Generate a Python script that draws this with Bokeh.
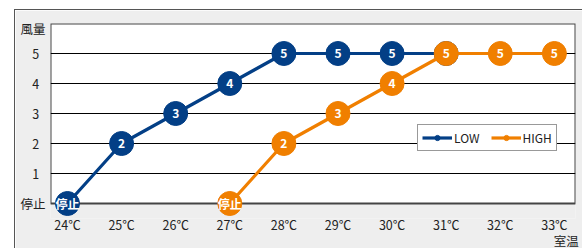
from bokeh.plotting import figure
from bokeh.models import ColumnDataSource, Legend, LegendItem, FixedTicker, LinearAxis
from bokeh.embed import file_html
from bokeh.resources import INLINE
from bokeh.core.properties import value

temps = [24, 25, 26, 27, 28, 29, 30, 31, 32, 33]
temp_labels = ["24℃", "25℃", "26℃", "27℃", "28℃", "29℃", "30℃", "31℃", "32℃", "33℃"]
low_x = [24, 25, 26, 27, 28, 29, 30, 31]
low_y = [0, 2, 3, 4, 5, 5, 5, 5]
high_x = [27, 28, 29, 30, 31, 32, 33]
high_y = [0, 2, 3, 4, 5, 5, 5]
level_ticks = [0, 1, 2, 3, 4, 5]
level_labels = ["停止", "1", "2", "3", "4", "5"]
grid_levels = [1, 2, 3, 4, 5]
y_title, y_title_pos = "風量", 5.82
x_title, x_title_pos = "室温", 33.22

NAVY = "#033f86"
ORANGE = "#f07f00"
GRAY = "#eeeeee"
FONT = "Noto Sans CJK JP"
X0, X1 = 23.686, 33.39
Y0, Y1 = -0.5, 6
PAD = "\u2002"  # keeps the short numeric labels centred under the wider ones

def lab(v):
    return "停止" if v == 0 else str(v)

p = figure(frame_width=525, frame_height=195, x_range=(X0, X1), y_range=(Y0, Y1),
           output_backend="svg", toolbar_location=None,
           min_border_left=35, min_border_top=13, min_border_right=8, min_border_bottom=31)
p.margin = (9, 0, 0, 14)
p.styles = {"border-left": "1px solid #555555", "border-top": "1px solid #555555"}
p.border_fill_color = GRAY
p.background_fill_color = GRAY
p.outline_line_color = None
p.xgrid.visible = False
p.ygrid.visible = False

# white plot area and horizontal rules
p.quad(left=[X0], right=[X1], bottom=[0], top=[Y1], fill_color="white",
       line_color="#444444", line_width=2)
p.hspan(y=grid_levels, line_color="black", line_width=1)

p.xaxis.ticker = FixedTicker(ticks=temps)
p.xaxis.major_label_overrides = {t: l for t, l in zip(temps, temp_labels)}
p.yaxis.ticker = FixedTicker(ticks=level_ticks + [y_title_pos])
ov = {t: (l if len(l) > 1 else l + PAD) for t, l in zip(level_ticks, level_labels)}
ov[y_title_pos] = y_title
p.yaxis.major_label_overrides = ov

x2 = LinearAxis(ticker=FixedTicker(ticks=[x_title_pos]),
                major_label_overrides={x_title_pos: x_title})
p.add_layout(x2, "below")

for ax in (p.xaxis[0], p.yaxis[0], x2):
    ax.axis_line_color = None
    ax.major_tick_line_color = None
    ax.minor_tick_line_color = None
    ax.major_tick_out = 0
    ax.major_tick_in = 0
    ax.minor_tick_out = 0
    ax.minor_tick_in = 0
    ax.major_label_text_font = FONT
    ax.major_label_text_font_size = "12.5px"
    ax.major_label_text_color = "#222222"
p.xaxis[0].major_label_standoff = -4
x2.major_label_standoff = -6
p.yaxis[0].major_label_standoff = 5

low_src = ColumnDataSource(dict(x=low_x, y=low_y, t=[lab(v) for v in low_y]))
high_src = ColumnDataSource(dict(x=high_x, y=high_y, t=[lab(v) for v in high_y]))

def series(src, color):
    ln = p.line("x", "y", source=src, line_color=color, line_width=3.2)
    dot = p.scatter("x", "y", source=src, size=8, fill_color=color, line_color=color)
    p.scatter("x", "y", source=src, size=24, fill_color=color, line_color=color)
    p.text("x", "y", text="t", source=src, text_color="white", text_font=value(FONT),
           text_font_style="bold", text_font_size="12px", text_align="center",
           text_baseline="middle")
    return ln, dot

lr, ld = series(low_src, NAVY)
hr, hd = series(high_src, ORANGE)

legend = Legend(items=[LegendItem(label="LOW", renderers=[lr, ld]),
                       LegendItem(label="HIGH", renderers=[hr, hd])],
                orientation="horizontal", location=(367, 67),
                label_text_font=FONT, label_text_font_size="12px", label_text_color="#222222",
                glyph_width=30, glyph_height=13, label_standoff=2, spacing=11,
                padding=4, margin=0, border_line_color="#333333", border_line_width=1,
                background_fill_color="white", background_fill_alpha=1,
                label_height=13)
p.add_layout(legend, "center")

open("out.html", "w").write(file_html(p, INLINE))
